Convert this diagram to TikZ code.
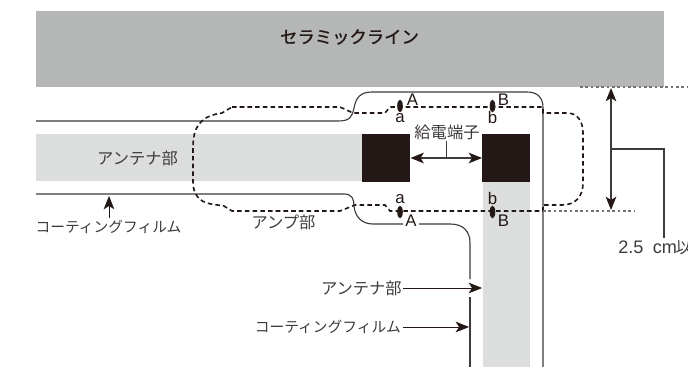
\documentclass[tikz,border=0pt]{standalone}
\usepackage{fontspec}
\setmainfont{Liberation Sans}
\newfontfamily\jpf{Noto Sans CJK JP}
\newfontfamily\jpm{Noto Sans CJK JP}[FakeBold=1.2]
\usetikzlibrary{arrows.meta,shapes.geometric}
\definecolor{bandgray}{HTML}{B5B6B6}
\definecolor{antgray}{HTML}{DCDDDD}
\definecolor{blk}{HTML}{231815}
\definecolor{film}{HTML}{3E3A39}
\definecolor{txtg}{HTML}{3E3A39}
\tikzset{
  x=0.75pt,y=-0.75pt,
  jp/.style={font=\jpf\fontsize{12.2}{13}\selectfont,text=txtg,inner sep=0pt},
  jps/.style={font=\jpf\fontsize{11.05}{12}\selectfont,text=txtg,inner sep=0pt},
  lat/.style={font=\fontsize{12.6}{13}\selectfont,text=blk,inner sep=0pt},
  filmline/.style={draw=film,line width=0.85pt},
  ampline/.style={draw=blk,line width=1.2pt,dash pattern=on 3.4pt off 2.4pt},
  guide/.style={draw=black!55,line width=0.8pt,dash pattern=on 2pt off 2pt},
  arr/.style={draw=blk,line width=0.7pt,-{Stealth[length=10pt,width=8pt,inset=2.5pt]}},
  darr/.style={draw=film,line width=0.9pt,{Stealth[length=10pt,width=8pt,inset=2.5pt,color=blk]}-{Stealth[length=10pt,width=8pt,inset=2.5pt,color=blk]}},
  pin/.style={fill=blk,draw=none,ellipse,minimum width=4.2pt,minimum height=9.5pt,inner sep=0pt},
  term/.style={fill=blk,draw=none,minimum width=36pt,minimum height=36pt,inner sep=0pt,anchor=north west},
}
\begin{document}
\begin{tikzpicture}
\useasboundingbox (0,0) rectangle (688,367);
% bands
\fill[bandgray] (36,11) rectangle (664,87);
\fill[antgray] (36,134) rectangle (365,181);
\fill[antgray] (483,180) rectangle (530,367);
\node[term] (t1) at (362,134) {};
\node[term] (t2) at (482,134) {};
% title
\node[font=\jpm\fontsize{13}{14}\selectfont,text=blk,inner sep=0pt] (title) at (349.5,37) {セラミックライン};
% coating film
\draw[filmline] (36,121) -- (338,121) .. controls (350,121) and (352,117) .. (354,108)
  .. controls (356,97) and (361,92) .. (372,92) -- (527,92)
  .. controls (538,92) and (543,98) .. (543,108) -- (543,367);
\draw[filmline] (36,194) -- (344,194) .. controls (352,194) and (354,199) .. (354,206)
  .. controls (355,217) and (362,224) .. (373,224) -- (403,224);
\draw[filmline] (419,224) -- (450,224) .. controls (463,224) and (470,231) .. (470,243) -- (470,279);
\draw[filmline] (470,297) -- (470,367);
% amp outline
\draw[ampline] (232,107) -- (340,107) -- (353,113) -- (385,113) -- (390,107) -- (543,107) -- (543,113)
  -- (567,113) .. controls (578,113) and (583,122) .. (583,133) -- (583,183)
  .. controls (583,197) and (575,205) .. (562,205) -- (543,205) -- (543,211)
  -- (390,211) -- (385,205) -- (355,205) -- (340,211) -- (232,211) -- (224,206) -- (211,204)
  .. controls (199,202) and (193,194) .. (193,182) -- (193,148)
  .. controls (193,127) and (200,116) .. (222,113) -- cycle;
% guides
\coordinate (g1) at (580,87); \coordinate (g2) at (688,87);
\coordinate (g3) at (543,211); \coordinate (g4) at (635,211);
\draw[guide] (g1) -- (g2);
\draw[guide] (g3) -- (g4);
% pins
\node[pin] (pa1) at (400,106) {};
\node[pin] (pb1) at (492.5,106) {};
\node[pin] (pa2) at (400,212) {};
\node[pin] (pb2) at (492.5,212) {};
% letters
\node[lat] (la1) at (412.5,100) {A};
\node[lat] (lb1) at (503.5,100) {B};
\node[lat] (lsa1) at (400,118) {a};
\node[lat] (lsb1) at (492.5,117) {b};
\node[lat] (lsa2) at (400,199) {a};
\node[lat] (lsb2) at (492.5,198) {b};
\node[lat] (la2) at (411,221) {A};
\node[lat] (lb2) at (503.5,221) {B};
% labels
\node[jp] (feed) at (447,132) {給電端子};
\coordinate (fj) at (446,158);
\draw[darr] (t1.east |- fj) -- (t2.west |- fj);
\draw[film,line width=0.7pt] (fj) -- (446,141);
\node[jp] (ant1) at (137.5,158) {アンテナ部};
\node[jps] (coat1) at (108.5,227) {コーティングフィルム};
\node[jp] (amp) at (283.5,222) {アンプ部};
\coordinate (c1) at (109,196);
\draw[arr] (109,218) -- (c1);
\node[jp,anchor=east] (ant2) at (402,288) {アンテナ部};
\coordinate (c2) at (482,288);
\draw[arr] (ant2.east) ++(1,0) -- (c2);
\node[jps,anchor=east] (coat2) at (401,327) {コーティングフィルム};
\coordinate (c3) at (469,327);
\draw[arr] (coat2.east) ++(2,0) -- (c3);
% dimension
\coordinate (d1) at (611,88); \coordinate (d2) at (611,210); \coordinate (d3) at (611,149);
\draw[darr] (d1) -- (d2);
\coordinate (d4) at (664,149); \coordinate (d5) at (664,238);
\draw[film,line width=0.9pt] (d3) -- (d4) -- (d5);
\begin{scope}
\clip (0,0) rectangle (688,367);
\node[lat,text=txtg,anchor=west,font=\fontsize{13.6}{14}\selectfont] (dim) at (618,248) {2.5\hspace{7pt}cm\hspace{-1pt}{\jpf\fontsize{12.2}{13}\selectfont 以}};
\end{scope}
\end{tikzpicture}
\end{document}
